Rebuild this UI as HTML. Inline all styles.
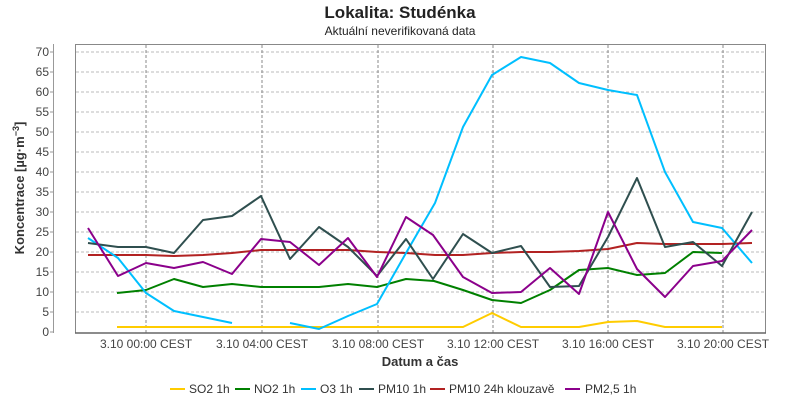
<!DOCTYPE html>
<html><head><meta charset="utf-8"><style>body{margin:0;background:#fff}svg{display:block;font-family:"Liberation Sans",sans-serif}</style></head><body>
<svg width="800" height="400" xmlns="http://www.w3.org/2000/svg">
<text x="400" y="18" text-anchor="middle" font-size="17" font-weight="bold" fill="#222">Lokalita: Studénka</text>
<text x="400" y="35" text-anchor="middle" font-size="12" fill="#222">Aktuální neverifikovaná data</text>
<rect x="75.5" y="44.5" width="690" height="288.5" fill="#fff" stroke="#888"/>
<g stroke="#bbb" stroke-dasharray="3,2" stroke-width="1">
<line x1="76" x2="765" y1="312" y2="312"/><line x1="76" x2="765" y1="292" y2="292"/><line x1="76" x2="765" y1="272" y2="272"/><line x1="76" x2="765" y1="252" y2="252"/><line x1="76" x2="765" y1="232" y2="232"/><line x1="76" x2="765" y1="212" y2="212"/><line x1="76" x2="765" y1="192" y2="192"/><line x1="76" x2="765" y1="172" y2="172"/><line x1="76" x2="765" y1="152" y2="152"/><line x1="76" x2="765" y1="132" y2="132"/><line x1="76" x2="765" y1="112" y2="112"/><line x1="76" x2="765" y1="92" y2="92"/><line x1="76" x2="765" y1="72" y2="72"/><line x1="76" x2="765" y1="52" y2="52"/>
</g>
<g stroke="#888" stroke-dasharray="3,2">
<line x1="146" x2="146" y1="45" y2="333"/><line x1="262" x2="262" y1="45" y2="333"/><line x1="378" x2="378" y1="45" y2="333"/><line x1="493" x2="493" y1="45" y2="333"/><line x1="608" x2="608" y1="45" y2="333"/><line x1="723" x2="723" y1="45" y2="333"/>
</g>
<line x1="53.5" x2="53.5" y1="44" y2="333" stroke="#999"/>
<line x1="75" x2="766" y1="333" y2="333" stroke="#666" stroke-width="1.5"/>
<g font-size="12" fill="#444" text-anchor="end">
<text x="49" y="336">0</text><text x="49" y="316">5</text><text x="49" y="296">10</text><text x="49" y="276">15</text><text x="49" y="256">20</text><text x="49" y="236">25</text><text x="49" y="216">30</text><text x="49" y="196">35</text><text x="49" y="176">40</text><text x="49" y="156">45</text><text x="49" y="136">50</text><text x="49" y="116">55</text><text x="49" y="96">60</text><text x="49" y="76">65</text><text x="49" y="56">70</text>
</g>
<g stroke="#999"><line x1="50" x2="53" y1="332" y2="332"/><line x1="50" x2="53" y1="312" y2="312"/><line x1="50" x2="53" y1="292" y2="292"/><line x1="50" x2="53" y1="272" y2="272"/><line x1="50" x2="53" y1="252" y2="252"/><line x1="50" x2="53" y1="232" y2="232"/><line x1="50" x2="53" y1="212" y2="212"/><line x1="50" x2="53" y1="192" y2="192"/><line x1="50" x2="53" y1="172" y2="172"/><line x1="50" x2="53" y1="152" y2="152"/><line x1="50" x2="53" y1="132" y2="132"/><line x1="50" x2="53" y1="112" y2="112"/><line x1="50" x2="53" y1="92" y2="92"/><line x1="50" x2="53" y1="72" y2="72"/><line x1="50" x2="53" y1="52" y2="52"/></g>
<g font-size="12" fill="#444" text-anchor="middle">
<text x="146" y="348">3.10 00:00 CEST</text><text x="262" y="348">3.10 04:00 CEST</text><text x="378" y="348">3.10 08:00 CEST</text><text x="493" y="348">3.10 12:00 CEST</text><text x="608" y="348">3.10 16:00 CEST</text><text x="723" y="348">3.10 20:00 CEST</text>
</g>
<text x="420" y="366" text-anchor="middle" font-size="13" font-weight="bold" fill="#333">Datum a čas</text>
<text transform="translate(24,188) rotate(-90)" text-anchor="middle" font-size="13" font-weight="bold" fill="#333">Koncentrace [µg·m<tspan font-size="9" dy="-5">−3</tspan><tspan dy="5">]</tspan></text>
<g fill="none" stroke-width="2" stroke-linejoin="round">
<polyline stroke="#ffcc00" points="117,327 146,327 174,327 203,327 232,327 261,327 290,327 319,327 348,327 377,327 406,327 435,327 463,327 492,313 521,327 550,327 579,327 608,322 637,321 665,327 693,327 722,327"/>
<polyline stroke="#b22222" points="88,255 118,255 146,255 174,256 203,255 232,253 261,250 290,250 319,250 348,250 377,252 406,253 435,255 463,255 492,253 521,252 550,252 579,251 608,249 637,243 665,244 693,244 722,244 752,243"/>
<polyline stroke="#008000" points="117,293 146,290 174,279 203,287 232,284 261,287 290,287 319,287 348,284 377,287 406,279 434,281 463,290 492,300 521,303 550,290 579,270 608,268 637,275 665,273 693,252 722,253"/>
<polyline stroke="#00bfff" points="88,238 118,258 146,293 174,311 203,317 232,323"/>
<polyline stroke="#00bfff" points="290,323 319,329 348,316 377,304 406,253 435,203 463,127 492,75 521,57 550,63 579,83 608,90 637,95 665,172 693,222 722,228 752,263"/>
<polyline stroke="#2f4f4f" points="88,243 118,247 146,247 174,253 203,220 232,216 261,196 290,259 319,227 348,247 377,276 406,239 433,279 463,234 492,253 521,246 550,287 579,286 608,237 637,178 665,247 693,242 722,266 752,212"/>
<polyline stroke="#8b008b" points="88,228 118,276 146,263 174,268 203,262 232,274 261,239 290,242 319,265 348,238 377,277 406,217 433,235 463,277 492,293 521,292 550,268 579,294 608,212 637,269 665,297 693,266 722,261 752,230"/>
</g>
<g stroke-width="2">
<line x1="170" x2="185" y1="389" y2="389" stroke="#ffcc00"/><line x1="235" x2="250" y1="389" y2="389" stroke="#008000"/><line x1="301" x2="316" y1="389" y2="389" stroke="#00bfff"/><line x1="359" x2="374" y1="389" y2="389" stroke="#2f4f4f"/><line x1="430" x2="445" y1="389" y2="389" stroke="#b22222"/><line x1="565" x2="580" y1="389" y2="389" stroke="#8b008b"/>
</g>
<g font-size="12" fill="#333">
<text x="189" y="393">SO2 1h</text><text x="254" y="393">NO2 1h</text><text x="320" y="393">O3 1h</text><text x="378" y="393">PM10 1h</text><text x="449" y="393">PM10 24h klouzavě</text><text x="585" y="393">PM2,5 1h</text>
</g>
</svg>
</body></html>
